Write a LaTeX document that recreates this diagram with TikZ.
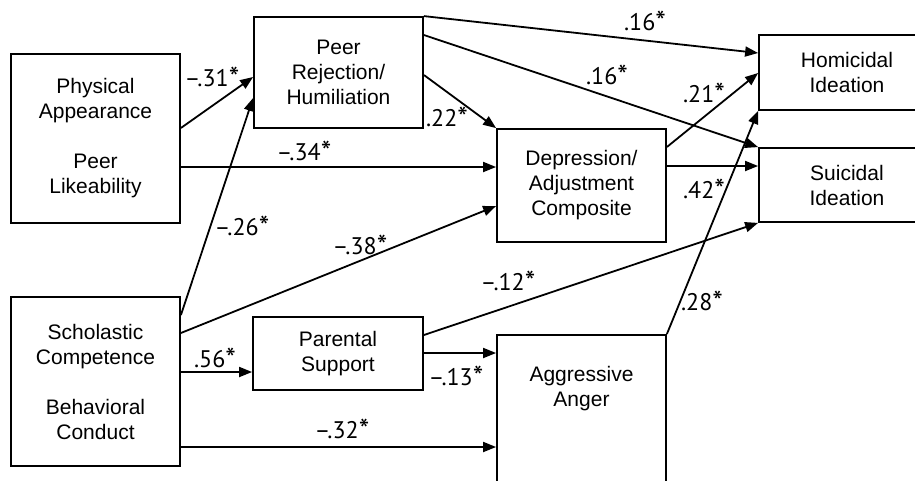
\documentclass[tikz,border=0pt]{standalone}
\usepackage{fontspec}
\setmainfont{Liberation Sans}
\newfontfamily\coeffont{PT Sans}
\usetikzlibrary{arrows.meta}
% significance star, drawn a little larger than the font's own asterisk
\newcommand{\sigstar}{\raisebox{-2.5pt}{\fontsize{30}{30}\selectfont*}}
\begin{document}
\begin{tikzpicture}[x=1pt,y=-1pt,
  box/.style={draw, line width=1.8pt, align=center, inner sep=0pt,
    font=\fontsize{21}{25}\selectfont},
  txt/.style={align=center, inner sep=0pt, font=\fontsize{21}{25}\selectfont},
  link/.style={line width=1.8pt, -{Triangle[length=13pt,width=10pt]}},
  coef/.style={font=\coeffont\fontsize{24}{25}\selectfont, inner sep=0pt}]
\useasboundingbox (0,0) rectangle (915,480);
\clip (0,0) rectangle (915,480);

% predictor boxes
\node[box, minimum width=169pt, minimum height=169pt] (pa) at (95.5,138.5)
  {Physical\\Appearance\\[25pt]Peer\\Likeability};
\node[box, minimum width=169pt, minimum height=169pt] (sc) at (95.5,381.5)
  {Scholastic\\Competence\\[25pt]Behavioral\\Conduct};

% mediators
\node[box, minimum width=169pt, minimum height=111pt] (pr) at (338.5,72.5)
  {Peer\\Rejection/\\Humiliation};
\node[box, minimum width=170pt, minimum height=73pt] (ps) at (338,353.5)
  {Parental\\Support};
\node[box, minimum width=169pt, minimum height=113pt] (dep) at (581.5,185.5)
  {Depression/\\Adjustment\\Composite};
\node[box, minimum width=169pt, minimum height=170pt, anchor=north] (ag) at (581.5,334) {};
\node[txt] (agt) at (581.5,389) {Aggressive\\Anger};

% outcomes (open to the right)
\node[box, minimum width=176pt, minimum height=75pt] (hom) at (847,72.5)
  {Homicidal\\Ideation};
\node[box, minimum width=176pt, minimum height=74pt] (sui) at (847,185)
  {Suicidal\\Ideation};

% paths
\draw[link] (pa.east |- 0,128) -- (pr.west |- 0,77);
\draw[link] (pa.east |- 0,167) -- (dep.west |- 0,167);
\draw[link] (pr.north east) -- (hom.west |- 0,53);
\draw[link] (pr.east |- 0,35) -- (sui.north west);
\draw[link] (pr.east |- 0,75) -- (dep.north west);
\draw[link] (dep.east |- 0,147) -- (hom.west |- 0,73);
\draw[link] (dep.east |- 0,166) -- (sui.west |- 0,166);
\draw[link] (sc.east |- 0,315) -- (pr.west |- 0,98);
\draw[link] (sc.east |- 0,333) -- (dep.west |- 0,206);
\draw[link] (sc.east |- 0,372) -- (ps.west |- 0,372);
\draw[link] (sc.east |- 0,447) -- (ag.west |- 0,447);
\draw[link] (ps.east |- 0,335) -- (sui.south west);
\draw[link] (ps.east |- 0,353) -- (ag.west |- 0,353);
\draw[link] (ag.north east) -- (hom.south west);

% path coefficients
\node[coef] (c1) at (212,78) {–.31\sigstar};
\node[coef] (c2) at (304,152) {–.34\sigstar};
\node[coef] (c3) at (645,22) {.16\sigstar};
\node[coef] (c4) at (607,76) {.16\sigstar};
\node[coef] (c5) at (447,118) {.22\sigstar};
\node[coef] (c6) at (704,94) {.21\sigstar};
\node[coef] (c7) at (704,190) {.42\sigstar};
\node[coef] (c8) at (242,227) {–.26\sigstar};
\node[coef] (c9) at (360,246) {–.38\sigstar};
\node[coef] (c10) at (215,359) {.56\sigstar};
\node[coef] (c11) at (342,430) {–.32\sigstar};
\node[coef] (c12) at (508,282) {–.12\sigstar};
\node[coef] (c13) at (456,377) {–.13\sigstar};
\node[coef] (c14) at (702,302) {.28\sigstar};
\end{tikzpicture}
\end{document}
